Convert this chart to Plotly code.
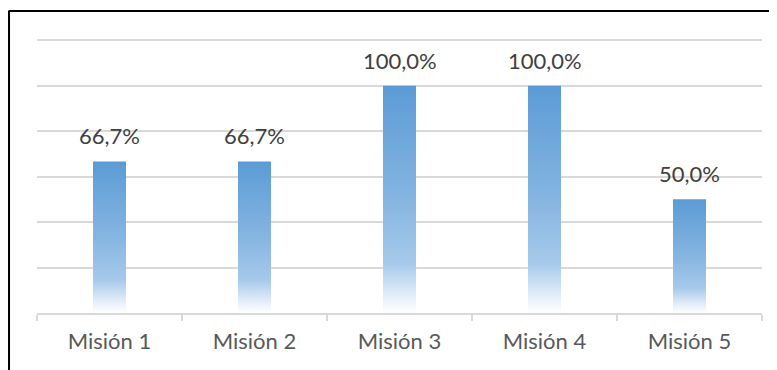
import plotly.graph_objects as go

categories = ["Misión 1", "Misión 2", "Misión 3", "Misión 4", "Misión 5"]
values = [66.7, 66.7, 100.0, 100.0, 50.0]

BAR_HALF = 0.114
grad = [[0.0, "#ffffff"], [0.07, "#e6eff9"], [0.22, "#a6c9ea"], [0.5, "#86b5e1"], [1.0, "#5b9bd5"]]
FONT = "Lato"

fig = go.Figure()
for i, v in enumerate(values):
    fig.add_trace(go.Scatter(
        x=[i - BAR_HALF, i + BAR_HALF, i + BAR_HALF, i - BAR_HALF, i - BAR_HALF],
        y=[0, 0, v, v, 0],
        mode="lines", line=dict(width=0), fill="toself",
        fillgradient=dict(type="vertical", colorscale=grad, start=0, stop=v),
        hoverinfo="skip", showlegend=False,
    ))

annotations = [
    dict(x=i, y=v, xref="x", yref="y", text=f"{v:.1f}%".replace(".", ","),
         showarrow=False, yanchor="bottom", yshift=10,
         font=dict(family=FONT, size=22, color="#404040"))
    for i, v in enumerate(values)
]

fig.update_layout(
    width=769, height=362,
    margin=dict(l=29, r=15, t=30, b=57),
    paper_bgcolor="white", plot_bgcolor="white",
    annotations=annotations,
    xaxis=dict(
        range=[-0.5, len(categories) - 0.5],
        tickvals=list(range(len(categories))), ticktext=categories,
        ticks="", showgrid=False, zeroline=False,
        showline=True, linecolor="#d9d9d9", linewidth=1.5,
        tickfont=dict(family=FONT, size=22, color="#595959"),
        ticklabelstandoff=8,
        minor=dict(tick0=-0.5, dtick=1, ticks="outside", ticklen=6, tickcolor="#d9d9d9", tickwidth=1.5, showgrid=False),
        fixedrange=True,
    ),
    yaxis=dict(
        range=[0, 121], tickvals=[20, 40, 60, 80, 100, 120], showticklabels=False,
        showgrid=True, gridcolor="#d9d9d9", gridwidth=1.5, zeroline=False,
        fixedrange=True,
    ),
    shapes=[
        dict(type="line", xref="paper", yref="paper", x0=-0.0386, x1=-0.0386, y0=-0.3, y1=1.1,
             line=dict(color="black", width=2)),
        dict(type="line", xref="paper", yref="paper", x0=-0.0386, x1=1.1, y0=1.098, y1=1.098,
             line=dict(color="black", width=2)),
    ],
)

fig.write_html("out.html")
